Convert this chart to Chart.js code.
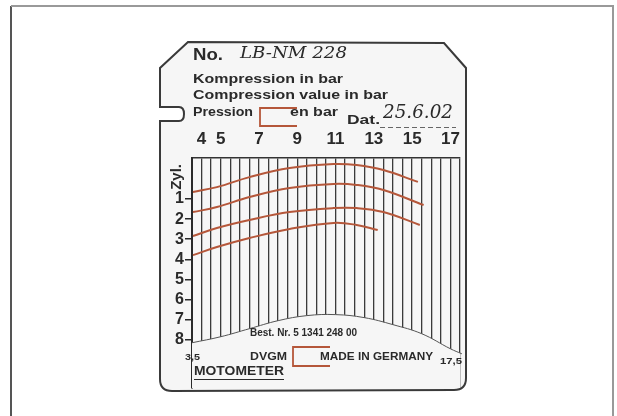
<!DOCTYPE html>
<html>
<head>
<meta charset="utf-8">
<script src="https://cdn.jsdelivr.net/npm/chart.js@4/dist/chart.umd.min.js"></script>
<style>
  html, body { margin: 0; padding: 0; background: #fff; }
  canvas { display: block; }
</style>
</head>
<body>
<canvas id="chart" width="617" height="416"></canvas>
<script>
// pressure scale (bar) and cylinders
let pressureTicks = [4, 5, 7, 9, 11, 13, 15, 17];
let gridLines = [3.5, 4, 4.5, 5, 5.5, 6, 6.5, 7, 7.5, 8, 8.5, 9, 9.5, 10, 10.5, 11, 11.5, 12, 12.5, 13, 13.5, 14, 14.5, 15, 15.5, 16, 16.5, 17, 17.5];
let cylinders = [1, 2, 3, 4, 5, 6, 7, 8];

// traces scratched on the card, one per cylinder
let zyl1x = [3.55, 4.8, 6.5, 8.6, 10.9, 12.1, 13.5, 15.3];
let zyl1y = [0.65, 0.41, -0.09, -0.54, -0.74, -0.69, -0.44, 0.15];
let zyl2x = [3.55, 4.8, 6.5, 8.6, 10.9, 12.1, 13.5, 15.6];
let zyl2y = [1.65, 1.40, 0.90, 0.45, 0.25, 0.30, 0.55, 1.30];
let zyl3x = [3.55, 4.8, 6.5, 8.6, 10.9, 12.1, 13.5, 15.4];
let zyl3y = [2.84, 2.44, 2.04, 1.65, 1.45, 1.45, 1.65, 2.29];
let zyl4x = [3.55, 4.8, 6.5, 8.6, 10.9, 12.1, 13.2];
let zyl4y = [3.79, 3.39, 2.94, 2.49, 2.19, 2.29, 2.54];

// lower end of the scale lines
let arcX = [3.5, 5, 6.5, 8, 9.5, 11, 12.5, 14, 15.5, 17, 17.6];
let arcY = [8.15, 7.85, 7.45, 7.05, 6.8, 6.75, 6.9, 7.25, 7.7, 8.45, 8.7];

const yMin = -1.04, yMax = 10.4;
const ink = '#2a2a2a';
const red = '#b5573a';
const cardColor = '#f6f6f6';

function pts(xs, ys) {
  return xs.map((x, i) => ({x: x, y: ys[i]}));
}

function trace(xs, ys) {
  return {
    data: pts(xs, ys),
    borderColor: red,
    borderWidth: 2,
    pointRadius: 0,
    tension: 0.4,
    fill: false
  };
}

function txt(ctx, s, x, y, font, w) {
  ctx.save();
  ctx.font = font;
  ctx.fillStyle = ink;
  ctx.textBaseline = 'middle';
  let m = ctx.measureText(s).width;
  ctx.translate(x, y);
  ctx.scale(w / m, 1);
  ctx.fillText(s, 0, 0);
  ctx.restore();
}

function bracket(ctx, x1, y1, x2, y2) {
  ctx.save();
  ctx.strokeStyle = red;
  ctx.lineWidth = 1.8;
  ctx.beginPath();
  ctx.moveTo(x2, y1);
  ctx.lineTo(x1, y1);
  ctx.lineTo(x1, y2);
  ctx.lineTo(x2, y2);
  ctx.stroke();
  ctx.restore();
}

const cardPlugin = {
  id: 'card',
  beforeDraw(chart) {
    let ctx = chart.ctx;
    ctx.save();
    // photo frame
    ctx.fillStyle = '#fff';
    ctx.fillRect(0, 0, 617, 416);
    ctx.strokeStyle = '#555';
    ctx.lineWidth = 2;
    ctx.beginPath();
    ctx.moveTo(11, 416); ctx.lineTo(11, 6); ctx.stroke();
    ctx.strokeStyle = '#999';
    ctx.beginPath();
    ctx.moveTo(11, 6); ctx.lineTo(613, 6); ctx.lineTo(613, 416); ctx.stroke();
    // card
    ctx.beginPath();
    ctx.moveTo(188, 42);
    ctx.lineTo(444, 43);
    ctx.lineTo(466, 68);
    ctx.lineTo(466, 378);
    ctx.quadraticCurveTo(466, 390, 454, 390);
    ctx.lineTo(172, 391);
    ctx.quadraticCurveTo(160, 391, 160, 379);
    ctx.lineTo(160, 121);
    ctx.lineTo(179, 121);
    ctx.quadraticCurveTo(184, 121, 184, 114);
    ctx.quadraticCurveTo(184, 107, 179, 107);
    ctx.lineTo(160, 107);
    ctx.lineTo(160, 68);
    ctx.closePath();
    ctx.fillStyle = cardColor;
    ctx.fill();
    ctx.strokeStyle = '#3a3a3a';
    ctx.lineWidth = 2;
    ctx.stroke();
    ctx.restore();
  },
  afterDraw(chart) {
    let ctx = chart.ctx;
    let bold = s => 'bold ' + s + 'px "Liberation Sans", Arial, sans-serif';
    let hand = s => 'italic ' + s + 'px "DejaVu Serif", serif';
    txt(ctx, 'No.', 193, 55, bold(17), 30);
    txt(ctx, 'LB-NM 228', 240, 54, hand(17), 107);
    txt(ctx, 'Kompression in bar', 193, 79, bold(13), 150);
    txt(ctx, 'Compression value in bar', 193, 95, bold(13), 195);
    txt(ctx, 'Pression', 193, 112, bold(13), 60);
    txt(ctx, 'en bar', 290, 112, bold(13), 48);
    txt(ctx, 'Dat.', 347, 120, bold(13), 33);
    txt(ctx, '25.6.02', 383, 113, hand(18), 70);
    bracket(ctx, 260, 108, 297, 126);
    ctx.save();
    ctx.strokeStyle = '#666';
    ctx.lineWidth = 1;
    ctx.setLineDash([5, 3]);
    ctx.beginPath(); ctx.moveTo(380, 127.5); ctx.lineTo(456, 127.5); ctx.stroke();
    ctx.restore();

    // Zyl. label beside the cylinder scale
    let ys = chart.scales.y;
    ctx.save();
    ctx.translate(177, ys.getPixelForValue(0) - 2);
    ctx.rotate(-Math.PI / 2);
    ctx.font = bold(15);
    ctx.fillStyle = ink;
    ctx.textAlign = 'center';
    ctx.textBaseline = 'middle';
    ctx.fillText('Zyl.', 0, 0);
    ctx.restore();

    txt(ctx, 'Best. Nr. 5 1341 248 00', 250, 333, bold(10), 107);
    txt(ctx, 'DVGM', 250, 357, bold(10), 37);
    txt(ctx, 'MADE IN GERMANY', 320, 357, bold(10), 113);
    bracket(ctx, 293, 347, 330, 366);
    txt(ctx, '3,5', 185, 358, bold(9), 15);
    txt(ctx, '17,5', 440, 362, bold(9), 22);
    txt(ctx, 'MOTOMETER', 194, 372, bold(12), 90);
    ctx.save();
    ctx.strokeStyle = ink;
    ctx.lineWidth = 1.2;
    ctx.beginPath(); ctx.moveTo(194, 379.5); ctx.lineTo(284, 379.5); ctx.stroke();
    ctx.restore();
  }
};

let ctx = document.getElementById('chart').getContext('2d');

var myChart = new Chart(ctx, {
  type: 'line',
  data: {
    datasets: [
      trace(zyl1x, zyl1y),
      trace(zyl2x, zyl2y),
      trace(zyl3x, zyl3y),
      trace(zyl4x, zyl4y),
      {
        data: pts(arcX, arcY),
        borderColor: '#555',
        borderWidth: 1,
        backgroundColor: cardColor,
        pointRadius: 0,
        tension: 0.4,
        fill: {value: yMax},
        clip: 6
      }
    ]
  },
  options: {
    responsive: false,
    animation: false,
    layout: { padding: { left: 152, right: 157, top: 130, bottom: 28 } },
    plugins: { legend: { display: false }, tooltip: { enabled: false } },
    scales: {
      x: {
        type: 'linear',
        position: 'top',
        min: 3.5,
        max: 17.5,
        afterBuildTicks: s => { s.ticks = gridLines.map(v => ({value: v})); },
        afterFit: s => { s.height = 28; },
        grid: { color: '#3a3a3a', lineWidth: 1.3, drawTicks: false },
        border: { color: '#333', width: 1.5 },
        ticks: {
          color: ink,
          font: { size: 17, weight: 'bold', family: '"Liberation Sans", Arial' },
          padding: 8,
          maxRotation: 0,
          autoSkip: false,
          callback: v => pressureTicks.includes(v) ? String(v) : ''
        }
      },
      y: {
        type: 'linear',
        reverse: true,
        min: yMin,
        max: yMax,
        z: 1,
        afterBuildTicks: s => { s.ticks = cylinders.map(v => ({value: v})); },
        afterFit: s => { s.width = 40; },
        grid: { drawOnChartArea: false, tickLength: 7, color: ink, lineWidth: 1.5 },
        border: { color: ink, width: 2 },
        ticks: { color: ink, font: { size: 16, weight: 'bold', family: '"Liberation Sans", Arial' }, padding: 1 }
      }
    }
  },
  plugins: [cardPlugin]
});
</script>
</body>
</html>
